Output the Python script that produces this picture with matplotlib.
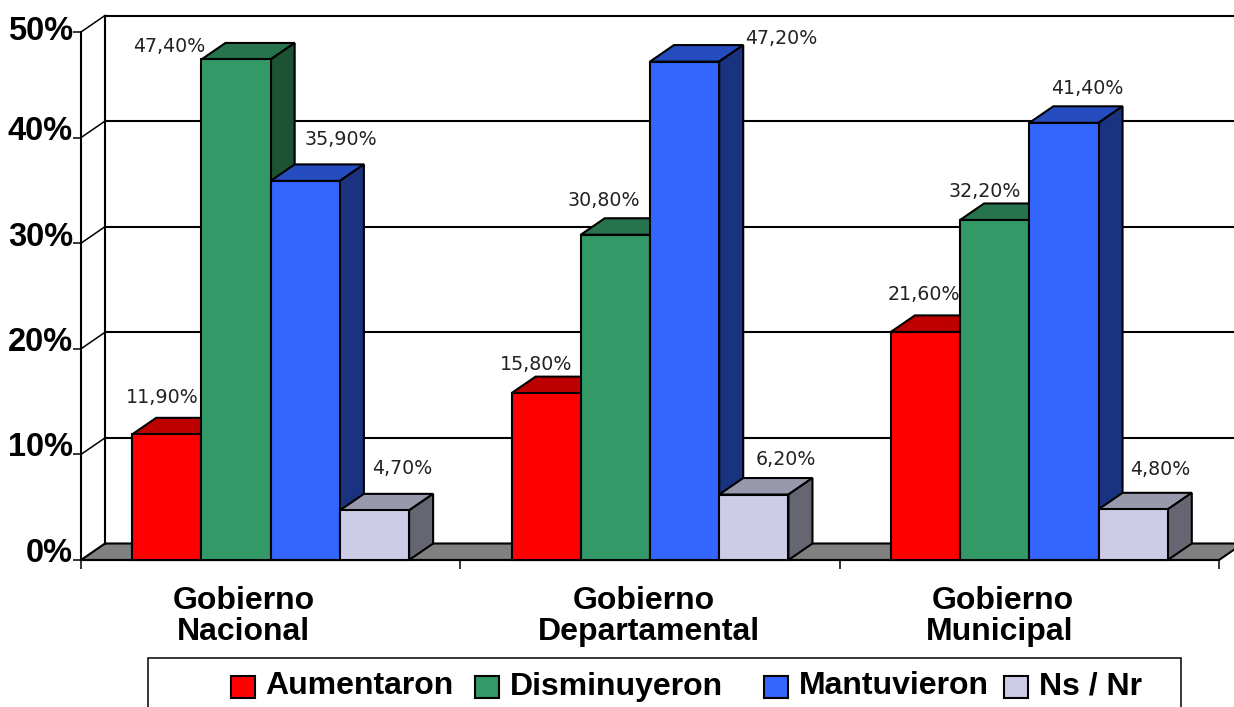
import numpy as np
import matplotlib
matplotlib.use('Agg')
import matplotlib.pyplot as plt
from matplotlib.patches import Polygon, Rectangle

grupos = ['Gobierno\nNacional', 'Gobierno\nDepartamental', 'Gobierno\nMunicipal']
series = ['Aumentaron', 'Disminuyeron', 'Mantuvieron', 'Ns / Nr']
aumentaron = [11.9, 15.8, 21.6]
disminuyeron = [47.4, 30.8, 32.2]
mantuvieron = [35.9, 47.2, 41.4]
ns_nr = [4.7, 6.2, 4.8]
etiquetas = [['11,90%', '15,80%', '21,60%'],
             ['47,40%', '30,80%', '32,20%'],
             ['35,90%', '47,20%', '41,40%'],
             ['4,70%', '6,20%', '4,80%']]
ticks_y = [0, 10, 20, 30, 40, 50]

# colores: frente, tapa, lado
colores = [('#FF0000', '#BF0000', '#800000'),
           ('#339966', '#26734D', '#1D5233'),
           ('#3366FF', '#264DBF', '#1A3380'),
           ('#CCCCE6', '#9999AD', '#666673')]

W, H = 1234, 707
X0, X1, Y0, Y1 = 81, 1219, 560, 32
ancho = 0.1825
# desplazamiento de la profundidad en unidades de datos
dx = 24 / ((X1 - X0) / 3)
dy = 16.5 / ((Y0 - Y1) / 50)
lw = 1.5

# corrimiento de cada etiqueta respecto a la tapa del frente, en pixeles
off_etq = [[(-5, 37), (-10, 29), (-2, 37)],
           [(-67, 13), (-12, 34), (-10, 28)],
           [(36, 41), (97, 23), (23, 34)],
           [(28, 42), (32, 35), (27, 40)]]
off_ticky = [6, 7, 6, 6, 6, 0]
off_grupo = [[-27, -27], [-6, -1], [-27, -30]]

fig = plt.figure(figsize=(W / 100, H / 100), dpi=100)
ax = fig.add_axes([X0 / W, 1 - Y0 / H, (X1 - X0) / W, (Y0 - Y1) / H])
ax.set_xlim(0, 3)
ax.set_ylim(0, 50)
ax.patch.set_visible(False)
for s in ['top', 'right']:
    ax.spines[s].set_visible(False)
for s in ['left', 'bottom']:
    ax.spines[s].set_linewidth(lw)
    ax.spines[s].set_zorder(1.5)
ax.set_xticks([0, 1, 2, 3])
ax.set_xticklabels([])
ax.set_yticks(ticks_y)
ax.set_yticklabels([])
ax.tick_params(axis='x', length=6.5, width=1.1)
ax.tick_params(axis='y', length=5.5, width=1.1)

# piso
ax.add_patch(Polygon([(0, 0), (dx, dy), (3 + dx, dy), (3, 0)], closed=True,
                     fc='#808080', ec='black', lw=lw, clip_on=False, zorder=1))
# pared del fondo
ax.plot([dx, dx], [dy, 50 + dy], color='black', lw=lw, clip_on=False, zorder=1.2)
for t in ticks_y[1:]:
    ax.plot([dx, 3 + dx], [t + dy, t + dy], color='black', lw=lw, clip_on=False, zorder=1.2)
    ax.plot([0, dx], [t, t + dy], color='black', lw=1.1, clip_on=False, zorder=1.2)

valores = [aumentaron, disminuyeron, mantuvieron, ns_nr]
z = 2
for g in range(len(grupos)):
    for i, vals in enumerate(valores):
        x = g + 0.5 + (i - 2) * ancho
        v = vals[g]
        fr, tapa, lado = colores[i]
        ax.add_patch(Polygon([(x, v), (x + dx, v + dy), (x + ancho + dx, v + dy), (x + ancho, v)],
                             closed=True, fc=tapa, ec='black', lw=lw, clip_on=False, zorder=z))
        ax.add_patch(Polygon([(x + ancho, 0), (x + ancho + dx, dy), (x + ancho + dx, v + dy), (x + ancho, v)],
                             closed=True, fc=lado, ec='black', lw=lw, clip_on=False, zorder=z))
        ax.bar(x, v, ancho, align='edge', color=fr, edgecolor='black', lw=lw, zorder=z + 0.5, clip_on=False)
        z += 1

for g in range(len(grupos)):
    for i, vals in enumerate(valores):
        x = g + 0.5 + (i - 1.5) * ancho
        ax.annotate(etiquetas[i][g], (x, vals[g]), xytext=off_etq[i][g], textcoords='offset pixels',
                    ha='center', va='center', fontsize=13.7, color='#222222',
                    family='DejaVu Sans', zorder=100, annotation_clip=False)

for t, o in zip(ticks_y, off_ticky):
    ax.annotate('{}%'.format(t), (0, t), xytext=(-8, o), textcoords='offset pixels',
                ha='right', va='center', fontsize=23.5, fontweight='bold',
                family='Liberation Sans', annotation_clip=False)

for g, nombre in enumerate(grupos):
    for j, linea in enumerate(nombre.split('\n')):
        ax.annotate(linea, (g + 0.5, 0), xytext=(off_grupo[g][j], -41 - 31 * j), textcoords='offset pixels',
                    ha='center', va='center', fontsize=23, fontweight='bold',
                    family='Liberation Sans', annotation_clip=False)

# leyenda
def px(x, y):
    return x / W, 1 - y / H

caja_x, caja_y = px(148, 720)
fig.add_artist(Rectangle((caja_x, caja_y), (1181 - 148) / W, (720 - 658) / H, fc='white', ec='black',
                         lw=1.1, transform=fig.transFigure))
pos_ley = [(231, 265), (475, 510), (764, 799), (1004, 1039)]
for (xc, xt), nombre, c in zip(pos_ley, series, colores):
    a, b = px(xc, 698)
    fig.add_artist(Rectangle((a, b), 24 / W, 22 / H, fc=c[0], ec='black', lw=lw, transform=fig.transFigure))
    a, b = px(xt, 686.5)
    fig.text(a, b, nombre, ha='left', va='center', fontsize=23, fontweight='bold', family='Liberation Sans')

fig.savefig('out.png', dpi=100)
